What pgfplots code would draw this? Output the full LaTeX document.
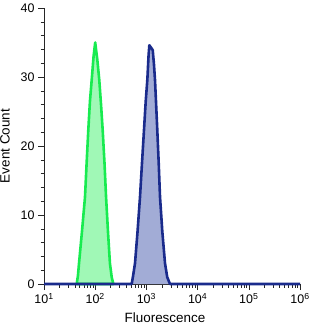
\documentclass[border=0pt]{standalone}
\usepackage{fontspec}
\setmainfont{Liberation Sans}
\usepackage{pgfplots}
\pgfplotsset{compat=1.18}
\definecolor{gline}{HTML}{18EB50}
\definecolor{gfill}{HTML}{A0F8B6}
\definecolor{bline}{HTML}{1A2B8C}
\definecolor{bfill}{HTML}{A2ACD6}
\begin{document}
\begin{tikzpicture}
\path[use as bounding box] (-44bp,-41bp) rectangle (284bp,284bp);
\begin{axis}[
  scale only axis, width=256bp, height=276bp,
  xmode=log, xmin=10, xmax=1e6, ymin=0, ymax=40,
  axis lines*=left, tick align=outside,
  axis line style={black!85, line width=0.8pt},
  xtick={10,100,1000,10000,100000,1000000},
  xticklabels={10\textsuperscript{1},10\textsuperscript{2},10\textsuperscript{3},10\textsuperscript{4},10\textsuperscript{5},10\textsuperscript{6}},
  ytick={0,10,20,30,40}, minor y tick num=4,
  major tick length=6bp, minor tick length=3.5bp,
  tick style={black!85, line width=0.6pt},
  ticklabel style={font=\fontsize{12.5}{14}\selectfont, /pgf/number format/assume math mode=true},
  xlabel={Fluorescence}, ylabel={Event Count},
  label style={font=\fontsize{13.5}{15}\selectfont},
  xlabel style={yshift=-2bp, xshift=-7bp},
  ylabel style={yshift=4bp},
  clip=false,
]
\addplot[draw=gline, fill=gfill, line width=2.6bp, line join=round] coordinates {
(43.5,0) (46,1.2) (48.3,3) (55,7.5) (63.2,12.6) (68,17.5) (73.3,22.3) (79,26.5) (85.5,29.6) (93,33) (100,35) (110,32.5) (120,29.6) (130,26) (140,22.3) (152,17.5) (163,12.6) (178,7.5) (194,3) (210,1) (226,0)
} \closedcycle;
\addplot[draw=bline, fill=bfill, line width=2.6bp, line join=round] coordinates {
(10,0) (516,0) (550,1.2) (599,3) (670,7.5) (750,12.6) (820,17.5) (897,22.3) (970,26.5) (1043,29.6) (1100,33) (1141,34.6) (1250,34.2) (1328,33.9) (1400,32) (1472,29.6) (1550,26) (1633,22.3) (1740,17.5) (1845,12.6) (2050,7.5) (2309,3) (2550,1) (2890,0) (1000000,0)
};
\end{axis}
\end{tikzpicture}
\end{document}
